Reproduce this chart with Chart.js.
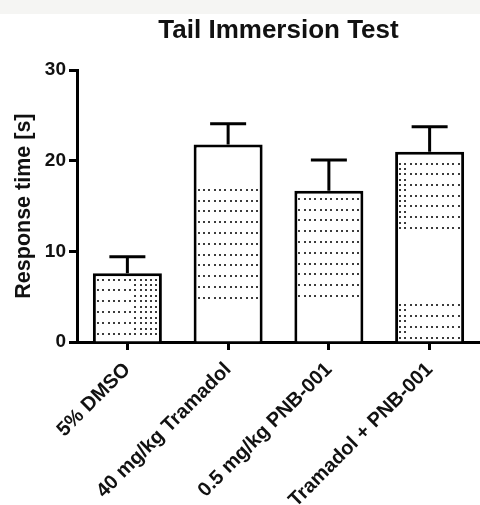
<!DOCTYPE html>
<html>
<head>
<meta charset="utf-8">
<script src="https://cdn.jsdelivr.net/npm/chart.js"></script>
<style>
  html, body { margin: 0; padding: 0; background: #fff; }
  #wrap { width: 480px; height: 505px; }
</style>
</head>
<body>
<div id="wrap"><canvas id="tailChart"></canvas></div>
<script>
const groups = ['5% DMSO', '40 mg/kg Tramadol', '0.5 mg/kg PNB-001', 'Tramadol + PNB-001'];
const responseTime = [7.6, 21.8, 16.7, 21.0];
const responseSem = [1.8, 2.3, 3.4, 2.75];
const yTicks = [0, 10, 20, 30];

// dotted shading inside each bar: first/last dot row in axis units, plus a denser strip
const dotBands = [[[1.0, 7.0]], [[5.0, 16.9]], [[5.2, 15.9]], [[0.6, 4.2], [12.7, 19.8]]];
const dotExtra = [[0.58, 1], null, null, [0, 0.12]];

const FONT = '"Liberation Sans", Arial, sans-serif';

const pageBg = {
    id: 'pageBg',
    beforeDraw(chart) {
        const ctx = chart.ctx;
        ctx.save();
        ctx.fillStyle = '#ffffff';
        ctx.fillRect(0, 0, chart.width, chart.height);
        ctx.fillStyle = '#f5f5f3';
        ctx.fillRect(0, 0, chart.width, 14);
        ctx.restore();
    }
};

const dotFill = {
    id: 'dotFill',
    afterDatasetsDraw(chart) {
        const yScale = chart.scales.y;
        const ctx = chart.ctx;
        ctx.save();
        ctx.fillStyle = '#3c3c3c';
        chart.getDatasetMeta(0).data.forEach((bar, i) => {
            const p = bar.getProps(['x', 'width'], true);
            const left = p.x - p.width / 2 + 4;
            const right = p.x + p.width / 2 - 5;
            const w = right - left;
            dotBands[i].forEach(([lo, hi]) => {
                const yLo = yScale.getPixelForValue(lo);
                const yHi = yScale.getPixelForValue(hi);
                const n = Math.max(1, Math.round((yLo - yHi) / 10.75));
                const step = (yLo - yHi) / n;
                for (let k = 0; k <= n; k++) {
                    const ry = Math.round(yLo - k * step);
                    for (let x = left; x < right; x += 5.33) {
                        ctx.fillRect(Math.round(x), ry, 2, 2);
                    }
                    const ex = dotExtra[i];
                    if (ex && k < n) {
                        const hy = Math.round(yLo - (k + 0.5) * step);
                        for (let x = left; x < right; x += 5.33) {
                            if (x >= left + ex[0] * w - 1 && x <= left + ex[1] * w) {
                                ctx.fillRect(Math.round(x), hy, 2, 2);
                            }
                        }
                    }
                }
            });
        });
        ctx.restore();
    }
};

const errorBars = {
    id: 'errorBars',
    afterDatasetsDraw(chart) {
        const yScale = chart.scales.y;
        const ctx = chart.ctx;
        ctx.save();
        ctx.strokeStyle = '#000';
        ctx.lineWidth = 3;
        ctx.lineCap = 'butt';
        chart.getDatasetMeta(0).data.forEach((bar, i) => {
            const p = bar.getProps(['x', 'y'], true);
            const top = yScale.getPixelForValue(responseTime[i] + responseSem[i]);
            ctx.beginPath();
            ctx.moveTo(p.x, p.y);
            ctx.lineTo(p.x, top);
            ctx.moveTo(p.x - 18, top);
            ctx.lineTo(p.x + 18, top);
            ctx.stroke();
        });
        ctx.restore();
    }
};

new Chart(document.getElementById('tailChart'), {
    type: 'bar',
    data: {
        labels: groups,
        datasets: [{
            data: responseTime,
            backgroundColor: '#ffffff',
            borderColor: '#000000',
            borderWidth: 3,
            barPercentage: 0.685,
            categoryPercentage: 1
        }]
    },
    options: {
        responsive: true,
        maintainAspectRatio: false,
        animation: false,
        layout: { padding: 0 },
        plugins: {
            legend: { display: false },
            tooltip: { enabled: false },
            title: {
                display: true,
                text: 'Tail Immersion Test',
                fullSize: false,
                color: '#111',
                font: { family: FONT, size: 26, weight: 'bold' },
                padding: { top: 15, bottom: 24 }
            }
        },
        scales: {
            x: {
                offset: true,
                afterFit: s => { s.height = 163; },
                border: { display: true, color: '#000', width: 3 },
                grid: {
                    offset: false,
                    drawOnChartArea: false,
                    drawTicks: true,
                    tickLength: 8,
                    tickWidth: 3,
                    tickColor: '#000'
                },
                ticks: {
                    autoSkip: false,
                    minRotation: 45,
                    maxRotation: 45,
                    padding: 8,
                    color: '#111',
                    font: { family: FONT, size: 20, weight: 'bold' }
                }
            },
            y: {
                min: 0,
                max: 30,
                afterFit: s => { s.width = 77; },
                afterBuildTicks: s => { s.ticks = yTicks.map(v => ({ value: v })); },
                border: { display: true, color: '#000', width: 3 },
                grid: {
                    drawOnChartArea: false,
                    drawTicks: true,
                    tickLength: 8,
                    tickWidth: 3,
                    tickColor: '#000'
                },
                ticks: {
                    padding: 3,
                    color: '#111',
                    font: { family: FONT, size: 19, weight: 'bold' }
                },
                title: {
                    display: true,
                    text: 'Response time [s]',
                    color: '#111',
                    font: { family: FONT, size: 21.5, weight: 'bold' },
                    padding: { top: 11, bottom: 0 }
                }
            }
        }
    },
    plugins: [pageBg, dotFill, errorBars]
});
</script>
</body>
</html>
